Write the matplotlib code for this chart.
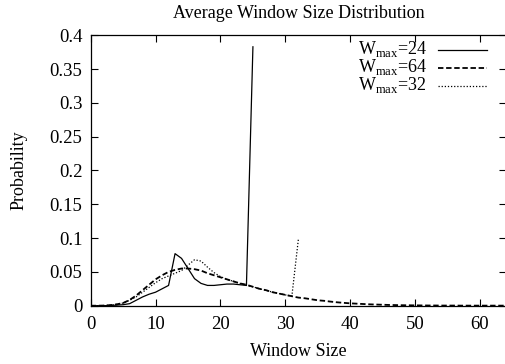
import matplotlib
matplotlib.use("Agg")
import matplotlib.pyplot as plt
from matplotlib.ticker import FuncFormatter
from matplotlib.lines import Line2D

plt.rcParams['font.family'] = ['Liberation Serif', 'DejaVu Serif']
plt.rcParams['mathtext.fontset'] = 'custom'
plt.rcParams['mathtext.rm'] = 'Liberation Serif'

# W_max = 24
x24 = list(range(0, 26))
y24 = [0, 0, 0, 0.0003, 0.0008, 0.0015, 0.003, 0.008, 0.013, 0.017, 0.020,
       0.025, 0.030, 0.077, 0.070, 0.055, 0.040, 0.033, 0.030, 0.030, 0.031,
       0.032, 0.032, 0.031, 0.030, 0.383]

# W_max = 64
x64 = list(range(0, 65))
y64 = [0, 0, 0.0002, 0.0008, 0.002, 0.004, 0.0085, 0.015, 0.023, 0.031, 0.039,
       0.045, 0.050, 0.053, 0.055, 0.055, 0.054, 0.052, 0.048, 0.045, 0.042,
       0.039, 0.036, 0.033, 0.031, 0.028, 0.025, 0.023, 0.020, 0.018, 0.016,
       0.014, 0.012, 0.011, 0.0095, 0.008, 0.0072, 0.006, 0.005, 0.0042, 0.0035,
       0.003, 0.0025, 0.002, 0.0017, 0.0014, 0.0011, 0.0009, 0.0007, 0.0006, 0.0005,
       0.0004, 0.0003, 0.0003, 0.0002, 0.0002, 0.0002, 0.0001, 0.0001, 0.0001, 0.0001,
       0.0001, 0.0001, 0.0001, 0.0001]

# W_max = 32
x32 = list(range(0, 33))
y32 = [0, 0, 0.0002, 0.0008, 0.002, 0.004, 0.008, 0.013, 0.020, 0.027, 0.034,
       0.040, 0.044, 0.048, 0.052, 0.060, 0.068, 0.066, 0.057, 0.049, 0.043,
       0.039, 0.036, 0.033, 0.030, 0.028, 0.025, 0.023, 0.020, 0.018, 0.016,
       0.014, 0.098]

labels = [r'W$_{\mathrm{max}}$=24', r'W$_{\mathrm{max}}$=64', r'W$_{\mathrm{max}}$=32']

W, H = 506, 364
fig = plt.figure(figsize=(W/100, H/100), dpi=100)
ax = fig.add_axes([90.7/W, 1-305.7/H, (W-90.7)/W, (305.7-35.3)/H])

styles = [dict(lw=0.9, linestyle='-'),
          dict(lw=1.3, linestyle=(0, (3, 1.5))),
          dict(lw=0.9, linestyle=(0, (1, 1.5)))]
for (xs, ys), st in zip([(x24, y24), (x64, y64), (x32, y32)], styles):
    ax.plot(xs, ys, color='black', **st)

ax.set_xlim(0, 64)
ax.set_ylim(0, 0.4)
ax.set_xticks([0, 10, 20, 30, 40, 50, 60])
ax.set_yticks([0, 0.05, 0.1, 0.15, 0.2, 0.25, 0.3, 0.35, 0.4])
ax.yaxis.set_major_formatter(FuncFormatter(lambda v, p: '%g' % round(v, 2)))
ax.tick_params(direction='in', top=True, right=True, length=5, width=0.8, labelsize=13.5, pad=6)
ax.tick_params(axis='x', pad=7.5)
for s in ax.spines.values():
    s.set_linewidth(0.9)

ax.set_title('Average Window Size Distribution', fontsize=13, pad=12.5)
ax.set_xlabel('Window Size', fontsize=13, labelpad=7)
ax.set_ylabel('Probability', fontsize=13, labelpad=16)

# legend in gnuplot style: right-aligned text, sample line to the right
tr = fig.transFigure
for i, (lab, st) in enumerate(zip(labels, styles)):
    yline = 1 - (50 + 17.8 * i) / H
    ybase = 1 - (54.3 + 17.8 * i) / H
    fig.text(427/W, ybase, lab, ha='right', va='baseline', fontsize=13)
    fig.add_artist(Line2D([438/W, 487/W], [yline, yline], transform=tr, color='black', **st))

fig.savefig('out.png', dpi=100)
